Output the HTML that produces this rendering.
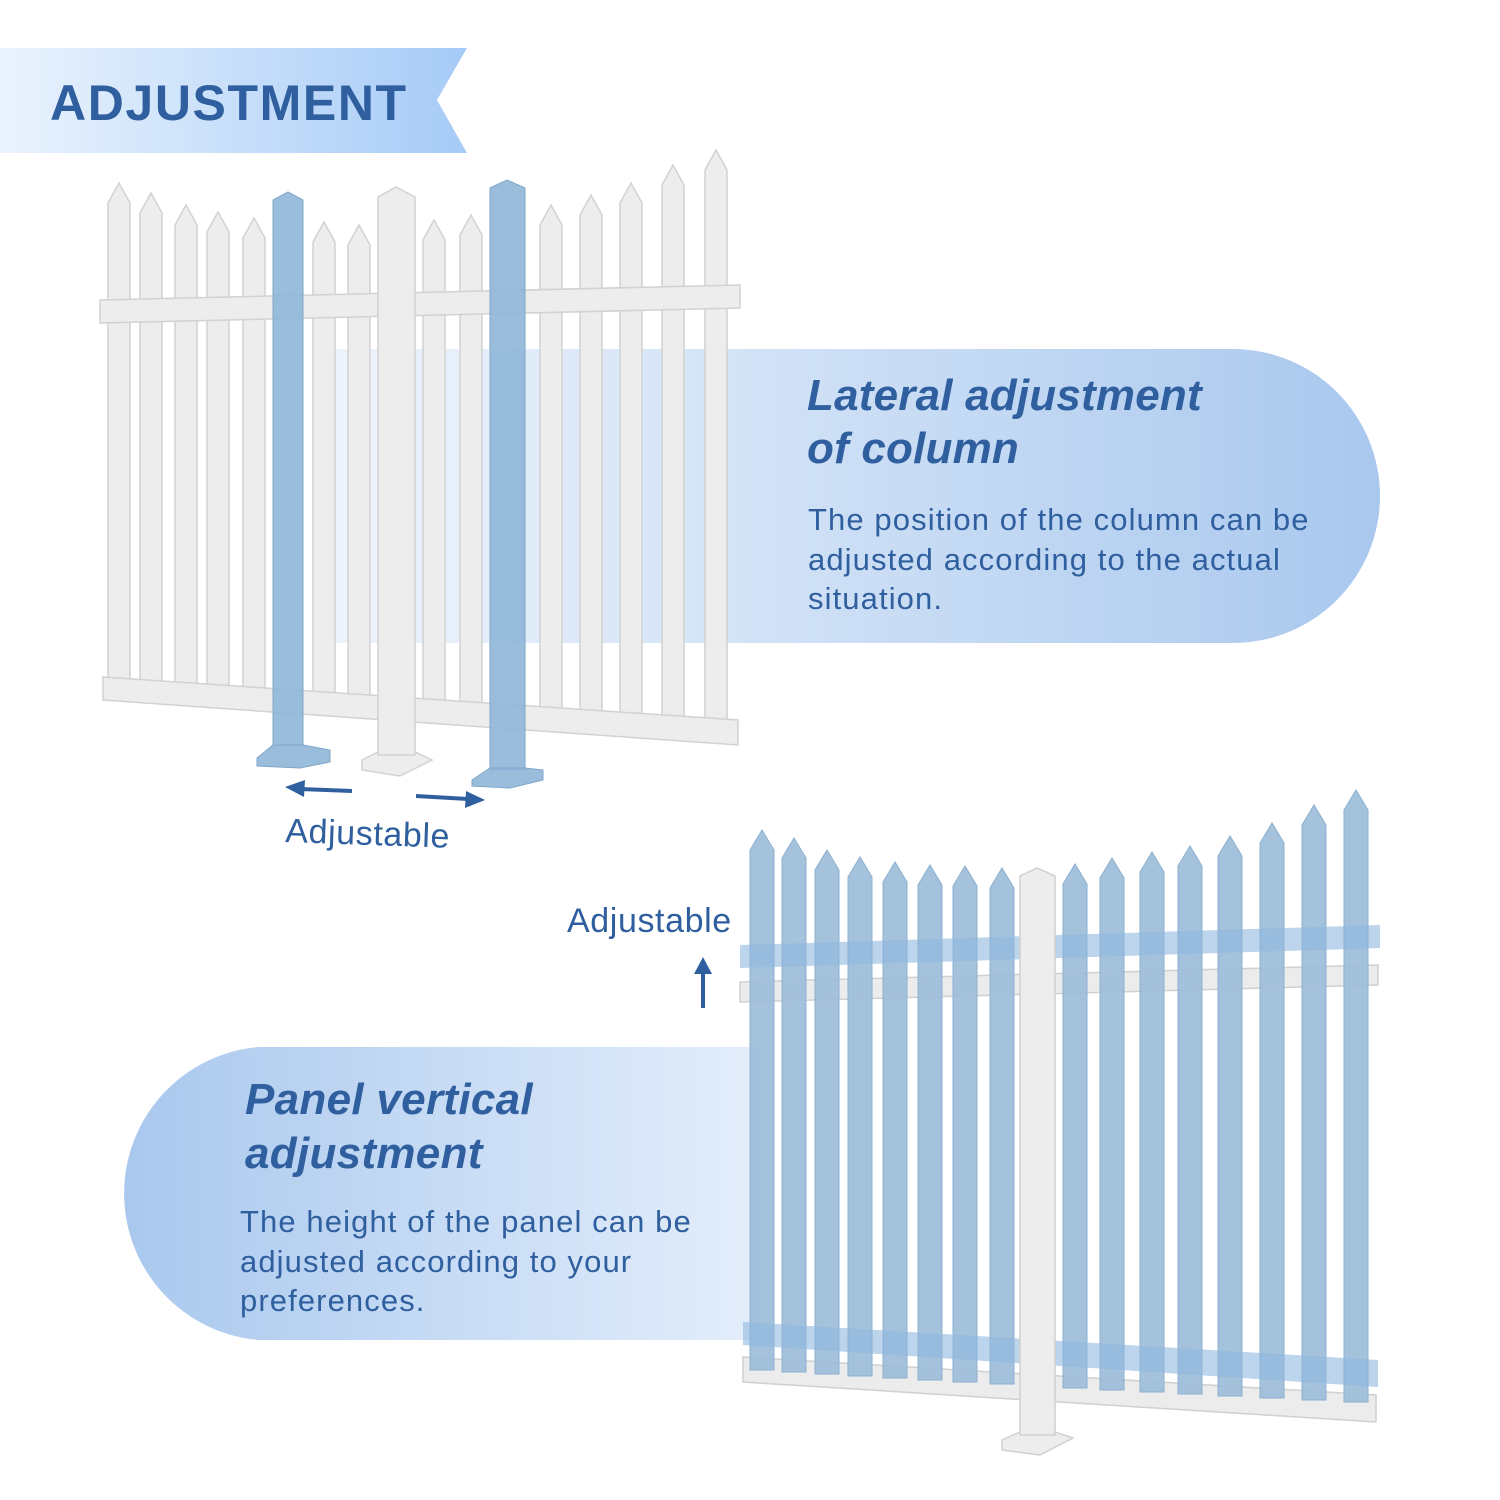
<!DOCTYPE html>
<html><head><meta charset="utf-8"><style>
html,body{margin:0;padding:0;background:#fff;}
svg{display:block;}
text{font-family:"Liberation Sans",sans-serif;fill:#2f5f9e;}
</style></head><body>
<svg width="1500" height="1500" viewBox="0 0 1500 1500" xmlns="http://www.w3.org/2000/svg">
<defs>
<linearGradient id="hb" x1="0" x2="1"><stop offset="0" stop-color="#eaf3fd"/><stop offset="1" stop-color="#a6cbf7"/></linearGradient>
<linearGradient id="p1" x1="0" x2="1"><stop offset="0" stop-color="#eef4fc"/><stop offset="1" stop-color="#a9c8ee"/></linearGradient>
<linearGradient id="p2" x1="0" x2="1"><stop offset="0" stop-color="#a9c8ee"/><stop offset="1" stop-color="#e4eefb"/></linearGradient>
</defs>
<polygon points="0,48 467,48 437,100 467,153 0,153" fill="url(#hb)"/>
<text x="50" y="120" font-size="50" font-weight="bold" letter-spacing="1.6">ADJUSTMENT</text>

<path d="M330,349 H1233 A147,147 0 0 1 1233,643 H330 Z" fill="url(#p1)"/>
<path d="M760,1047 H259 A147,147 0 0 0 259,1340 H760 Z" fill="url(#p2)"/>

<!-- top fence -->
<g fill="#ededed" stroke="#d2d2d2" stroke-width="1.5">
<polygon points="108,680 108,203 119,183 130,203 130,680"/>
<polygon points="140,683 140,213 151,193 162,213 162,683"/>
<polygon points="175,686 175,225 186,205 197,225 197,686"/>
<polygon points="207,688 207,232 218,212 229,232 229,688"/>
<polygon points="243,690 243,238 254,218 265,238 265,690"/>
<polygon points="313,695 313,242 324,222 335,242 335,695"/>
<polygon points="348,697 348,245 359,225 370,245 370,697"/>
<polygon points="423,703 423,240 434,220 445,240 445,703"/>
<polygon points="460,705 460,235 471,215 482,235 482,705"/>
<polygon points="540,710 540,225 551,205 562,225 562,710"/>
<polygon points="580,712 580,215 591,195 602,215 602,712"/>
<polygon points="620,714 620,203 631,183 642,203 642,714"/>
<polygon points="662,716 662,185 673,165 684,185 684,716"/>
<polygon points="705,720 705,170 716,150 727,170 727,720"/>
<polygon points="100,300 740,285 740,308 100,323"/>
<polygon points="103,677 738,720 738,745 103,700"/>
<polygon points="362,760 378,752 415,752 432,760 400,776 362,770"/>
<polygon points="378,755 378,197 396,187 415,197 415,755"/>
</g>
<g fill="#8fb6d8" fill-opacity="0.9" stroke="#7fa6c9">
<polygon points="273,745 273,200 288,192 303,200 303,745"/>
<polygon points="257,758 273,745 303,745 330,750 330,762 300,768 257,766"/>
<polygon points="490,770 490,188 507,180 525,188 525,770"/>
<polygon points="472,780 490,768 525,768 543,770 543,780 510,788 472,786"/>
</g>
<g stroke="#2f5f9e" stroke-width="4" fill="#2f5f9e">
<line x1="352" y1="791" x2="300" y2="789"/><polygon points="285,787 305,780 304,797" stroke="none"/>
<line x1="416" y1="796" x2="468" y2="799"/><polygon points="485,800 466,791 465,808" stroke="none"/>
<line x1="703" y1="1008" x2="703" y2="972"/><polygon points="703,957 694,974 712,974" stroke="none"/>
</g>
<text x="285" y="842" font-size="34" letter-spacing="0.6" transform="rotate(2 285 842)">Adjustable</text>
<text x="567" y="932" font-size="34" letter-spacing="0.6">Adjustable</text>

<!-- bottom fence -->
<g fill="#ececec" stroke="#d0d0d0" stroke-width="1.5">
<polygon points="740,982 1378,965 1378,985 740,1002"/>
<polygon points="743,1357 1376,1395 1376,1422 743,1382"/>
</g>
<g fill="#9dbdd9" fill-opacity="0.92" stroke="#8cb0d0">
<polygon points="750,1370 750,850 762,830 774,850 774,1370"/>
<polygon points="782,1372 782,858 794,838 806,858 806,1372"/>
<polygon points="815,1374 815,870 827,850 839,870 839,1374"/>
<polygon points="848,1376 848,877 860,857 872,877 872,1376"/>
<polygon points="883,1378 883,882 895,862 907,882 907,1378"/>
<polygon points="918,1380 918,885 930,865 942,885 942,1380"/>
<polygon points="953,1382 953,886 965,866 977,886 977,1382"/>
<polygon points="990,1384 990,888 1002,868 1014,888 1014,1384"/>
<polygon points="1063,1388 1063,884 1075,864 1087,884 1087,1388"/>
<polygon points="1100,1390 1100,878 1112,858 1124,878 1124,1390"/>
<polygon points="1140,1392 1140,872 1152,852 1164,872 1164,1392"/>
<polygon points="1178,1394 1178,866 1190,846 1202,866 1202,1394"/>
<polygon points="1218,1396 1218,856 1230,836 1242,856 1242,1396"/>
<polygon points="1260,1398 1260,843 1272,823 1284,843 1284,1398"/>
<polygon points="1302,1400 1302,825 1314,805 1326,825 1326,1400"/>
<polygon points="1344,1402 1344,810 1356,790 1368,810 1368,1402"/>
</g>
<g fill="#8fb8e0" fill-opacity="0.6">
<polygon points="740,945 1380,925 1380,948 740,968"/>
<polygon points="743,1322 1378,1360 1378,1387 743,1345"/>
</g>
<g fill="#ededed" stroke="#d0d0d0" stroke-width="1.5">
<polygon points="1002,1440 1020,1432 1055,1432 1073,1438 1040,1455 1002,1450"/>
<polygon points="1020,1435 1020,876 1037,868 1055,876 1055,1435"/>
</g>

<text x="807" y="410" font-size="44" font-weight="bold" font-style="italic" letter-spacing="0.2">Lateral adjustment</text>
<text x="807" y="463" font-size="44" font-weight="bold" font-style="italic" letter-spacing="0.2">of column</text>
<text x="808" y="530" font-size="31" letter-spacing="1.1">The position of the column can be</text>
<text x="808" y="570" font-size="31" letter-spacing="1.1">adjusted according to the actual</text>
<text x="808" y="609" font-size="31" letter-spacing="1.1">situation.</text>

<text x="245" y="1114" font-size="44" font-weight="bold" font-style="italic" letter-spacing="0.3">Panel vertical</text>
<text x="245" y="1168" font-size="44" font-weight="bold" font-style="italic" letter-spacing="0.3">adjustment</text>
<text x="240" y="1232" font-size="31" letter-spacing="1.1">The height of the panel can be</text>
<text x="240" y="1272" font-size="31" letter-spacing="1.1">adjusted according to your</text>
<text x="240" y="1311" font-size="31" letter-spacing="1.1">preferences.</text>
</svg>
</body></html>
